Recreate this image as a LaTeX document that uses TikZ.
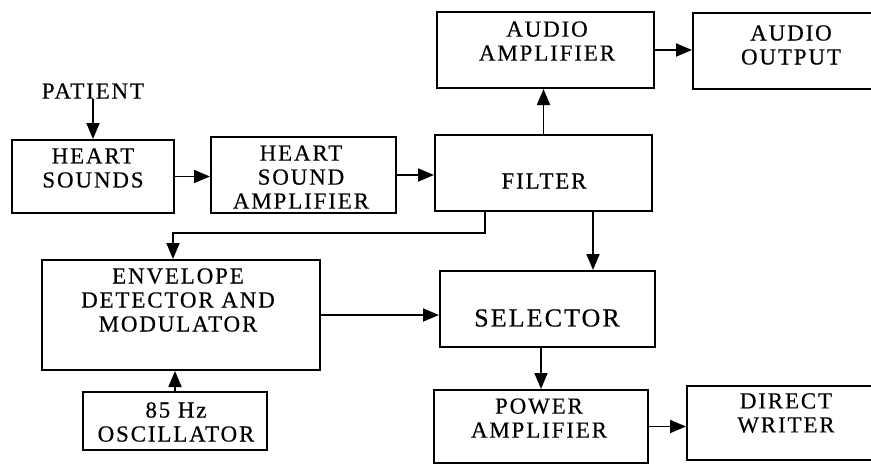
\documentclass[tikz,border=0pt]{standalone}
\usepackage{fontspec}
\setmainfont{Liberation Serif}[LetterSpace=8,FakeBold=0.4]
\usetikzlibrary{arrows.meta,calc}

\tikzset{
  blk/.style={draw, line width=2pt, inner sep=0pt},
  txt/.style={align=center, inner sep=0pt,
    font=\fontsize{23}{24}\selectfont},
  arr/.style={line width=1.8pt, -{Triangle[length=16pt,width=13pt]}},
}

\begin{document}
\begin{tikzpicture}[x=1pt,y=-1pt]
  \useasboundingbox (0,0) rectangle (871,466);
  % Blocks
  \node[blk, minimum width=162, minimum height=73] (hs) at (93,176.5) {};
  \node[blk, minimum width=185, minimum height=76] (hsa) at (303.5,175) {};
  \node[blk, minimum width=217, minimum height=76] (flt) at (543.5,173) {};
  \node[blk, minimum width=217, minimum height=76] (aa) at (545.5,50) {};
  \node[blk, minimum width=182, minimum height=76] (ao) at (784,51) {};
  \node[blk, minimum width=278, minimum height=110] (env) at (181,315) {};
  \node[blk, minimum width=184, minimum height=58] (osc) at (175,421) {};
  \node[blk, minimum width=215, minimum height=76] (sel) at (547.5,309) {};
  \node[blk, minimum width=214, minimum height=73] (pa) at (541,426.5) {};
  \node[blk, minimum width=188, minimum height=74] (dw) at (781,423) {};
  % Texts
  \node[txt] (pat) at (93,91) {PATIENT};
  \node[txt] (hs-t) at (93,168) {HEART\\SOUNDS};
  \node[txt] (hsa-t) at (301,177) {HEART\\SOUND\\AMPLIFIER};
  \node[txt] (flt-t) at (544,181) {FILTER};
  \node[txt] (aa-t) at (547,41) {AUDIO\\AMPLIFIER};
  \node[txt] (ao-t) at (791,45) {AUDIO\\OUTPUT};
  \node[txt] (env-t) at (178,300) {ENVELOPE\\DETECTOR AND\\MODULATOR};
  \node[txt] (osc-t) at (176,422) {85 Hz\\OSCILLATOR};
  \node[txt, font=\fontsize{26}{26}\selectfont] (sel-t) at (547,318) {SELECTOR};
  \node[txt] (pa-t) at (539,418) {POWER\\AMPLIFIER};
  \node[txt] (dw-t) at (786,413) {DIRECT\\WRITER};
  % Taps
  \coordinate (fb) at (485,233);
  \coordinate (eb) at (173,233);
  \coordinate (fs) at (593,250);
  % Connectors
  \draw[arr] (pat) -- (hs);
  \draw[arr] (hs.east) -- (hs.east -| hsa.west);
  \draw[arr] (hsa.east) -- (hsa.east -| flt.west);
  \draw[arr] (flt.north) -- (flt.north |- aa.south);
  \draw[arr] (aa.east) -- (aa.east -| ao.west);
  \draw[arr] (flt.south -| fb) -- (fb) -- (eb) -- (env.north -| eb);
  \draw[arr] (flt.south -| fs) -- (sel.north -| fs);
  \draw[arr] (env.east) -- (env.east -| sel.west);
  \draw[arr] (osc.north) -- (osc.north |- env.south);
  \draw[arr] (pa.north |- sel.south) -- (pa.north);
  \draw[arr] (pa.east) -- (pa.east -| dw.west);
\end{tikzpicture}
\end{document}
